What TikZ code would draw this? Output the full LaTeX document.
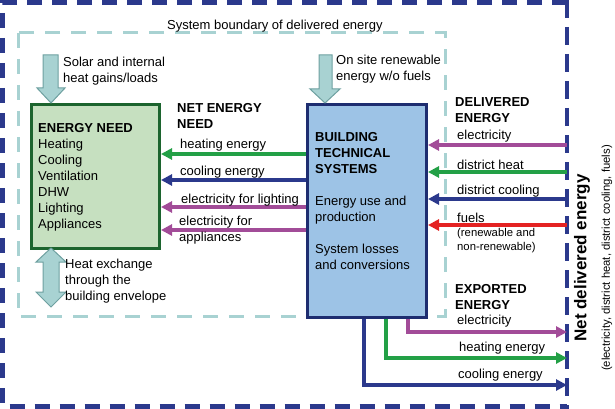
\documentclass[tikz,border=0pt]{standalone}
\usepackage{fontspec}
\setmainfont{Liberation Sans}
\usetikzlibrary{arrows.meta}
\definecolor{navyline}{RGB}{43,57,140}
\definecolor{greenflow}{RGB}{35,160,70}
\definecolor{purpleflow}{RGB}{162,76,152}
\definecolor{redflow}{RGB}{228,34,34}
\definecolor{teallight}{RGB}{168,210,210}
\definecolor{tealdark}{RGB}{110,160,160}
\definecolor{needfill}{RGB}{198,224,192}
\definecolor{needline}{RGB}{28,100,46}
\definecolor{btsfill}{RGB}{157,195,230}
\definecolor{btsline}{RGB}{30,45,112}
\tikzset{
  flow/.style={line width=3.5pt,-{Triangle[length=11pt,width=11pt]}},
  txt/.style={anchor=north west,inner sep=0pt,align=left,font=\fontsize{13}{16}\selectfont},
  hd/.style={txt,font=\fontsize{13}{16}\selectfont\bfseries},
  smalltxt/.style={txt,font=\fontsize{11.3}{14}\selectfont},
  bigarrow/.style={fill=teallight,draw=tealdark,line width=1pt}
}
\begin{document}
\begin{tikzpicture}[x=1pt,y=-1pt]
\useasboundingbox (0,0) rectangle (615,409);

% System boundaries
\draw[teallight,line width=3pt,dash pattern=on 15pt off 11pt] (18,33) rectangle (445,316);
\draw[navyline,line width=5pt,dash pattern=on 15pt off 10pt] (567,2.5) -- (2.5,2.5) -- (2.5,406) -- (567,406);
\draw[navyline,line width=3.5pt,dash pattern=on 18pt off 9pt] (567,0) -- (567,409);
\node[txt] (sysb) at (167,19.5) {System boundary of delivered energy};

% Boxes
\node[draw=needline,fill=needfill,line width=3pt,minimum width=128pt,minimum height=144pt,anchor=north west,inner sep=0pt] (need) at (30,103) {};
\node[draw=btsline,fill=btsfill,line width=3pt,minimum width=119pt,minimum height=213pt,anchor=north west,inner sep=0pt] (bts) at (306,103) {};
\node[txt] (needtxt) at (38,123.3) {\textbf{ENERGY NEED}\\Heating\\Cooling\\Ventilation\\DHW\\Lighting\\Appliances};
\node[txt] (btstxt) at (315,132.3) {\textbf{BUILDING}\\\textbf{TECHNICAL}\\\textbf{SYSTEMS}\\[16pt]Energy use and\\production\\[16pt]System losses\\and conversions};

% Big arrows
\draw[bigarrow] (43,55) -- (58,55) -- (58,88) -- (65,88) -- (51,103) -- (37,88) -- (43,88) -- cycle;
\draw[bigarrow] (319,55) -- (332,55) -- (332,89) -- (340,89) -- (325,103) -- (310,89) -- (319,89) -- cycle;
\draw[bigarrow] (51,248) -- (66,262) -- (59,262) -- (59,292) -- (66,292) -- (51,307) -- (36,292) -- (43,292) -- (43,262) -- (36,262) -- cycle;
\node[txt] (solar) at (63,56.5) {Solar and internal\\heat gains/loads};
\node[txt] (onsite) at (336,54.5) {On site renewable\\energy w/o fuels};
\node[txt] (hex) at (65,258.5) {Heat exchange\\through the\\building envelope};

% Net energy need
\node[hd] (nethd) at (177,103.3) {NET ENERGY\\NEED};
\draw[flow,greenflow] (bts.west |- 0,154) -- (need.east |- 0,154);
\draw[flow,navyline] (bts.west |- 0,180) -- (need.east |- 0,180);
\draw[flow,purpleflow] (bts.west |- 0,207) -- (need.east |- 0,207);
\draw[flow,purpleflow] (bts.west |- 0,230) -- (need.east |- 0,230);
\node[txt] (lheat) at (180,138.5) {heating energy};
\node[txt] (lcool) at (180,165.5) {cooling energy};
\node[txt] (llight) at (181,193.5) {electricity for lighting};
\node[txt] (lappl) at (179,215.5) {electricity for\\appliances};

% Delivered energy
\node[hd] (delhd) at (455,97.3) {DELIVERED\\ENERGY};
\coordinate (din1) at (567,145);
\coordinate (din2) at (567,172);
\coordinate (din3) at (567,199);
\coordinate (din4) at (567,225);
\draw[flow,purpleflow] (din1) -- (din1 -| bts.east);
\draw[flow,greenflow] (din2) -- (din2 -| bts.east);
\draw[flow,navyline] (din3) -- (din3 -| bts.east);
\draw[flow,redflow] (din4) -- (din4 -| bts.east);
\node[txt] (delel) at (457,129.5) {electricity};
\node[txt] (delheat) at (457,159.5) {district heat};
\node[txt] (delcool) at (457,184.5) {district cooling};
\node[txt] (delfuel) at (457,212.5) {fuels};
\node[smalltxt] (delfuel2) at (457,228) {(renewable and\\non-renewable)};

% Exported energy
\node[hd] (exphd) at (455,284.3) {EXPORTED\\ENERGY};
\coordinate (dex1) at (567,332);
\coordinate (dex2) at (567,358);
\coordinate (dex3) at (567,385);
\draw[flow,purpleflow] (bts.south -| 408,0) |- (dex1);
\draw[flow,greenflow] (bts.south -| 386,0) |- (dex2);
\draw[flow,navyline] (bts.south -| 364,0) |- (dex3);
\node[txt] (expel) at (457,314.5) {electricity};
\node[txt] (expheat) at (459,341.5) {heating energy};
\node[txt] (expcool) at (458,368.5) {cooling energy};

% Net delivered energy
\node[rotate=90,inner sep=0pt,font=\fontsize{17}{20}\selectfont\bfseries] (netdel) at (582,258) {Net delivered energy};
\node[rotate=90,inner sep=0pt,font=\fontsize{11.3}{14}\selectfont] (netdel2) at (607,258) {(electricity, district heat, district cooling, fuels)};
\end{tikzpicture}
\end{document}
